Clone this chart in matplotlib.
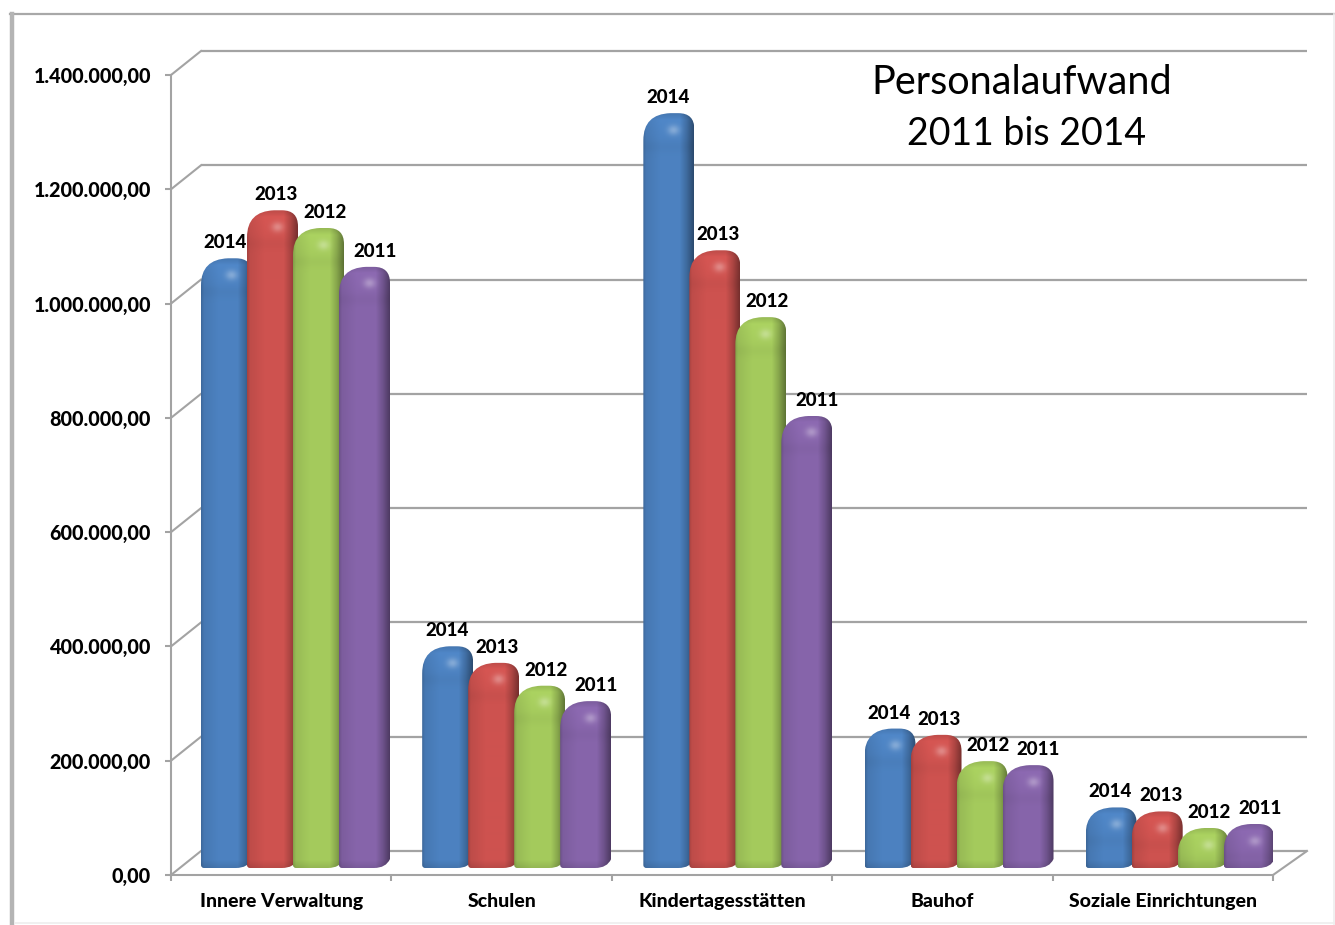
import numpy as np
import matplotlib
matplotlib.use("Agg")
import matplotlib.pyplot as plt
from matplotlib.lines import Line2D
from matplotlib.path import Path
from matplotlib.transforms import Affine2D, IdentityTransform

# data
categories = ["Innere Verwaltung", "Schulen", "Kindertagesstätten", "Bauhof", "Soziale Einrichtungen"]
years = ["2014", "2013", "2012", "2011"]
values_2014 = [1067000, 388000, 1321000, 244000, 106000]
values_2013 = [1151000, 359000, 1081000, 233000, 99000]
values_2012 = [1120000, 319000, 964000, 187000, 70000]
values_2011 = [1052000, 292000, 791000, 180000, 77000]
y_ticks = [0, 200000, 400000, 600000, 800000, 1000000, 1200000, 1400000]
y_labels = ["0,00", "200.000,00", "400.000,00", "600.000,00", "800.000,00",
            "1.000.000,00", "1.200.000,00", "1.400.000,00"]

series = [values_2014, values_2013, values_2012, values_2011]
colors = [(74, 126, 187), (200, 80, 77), (160, 197, 90), (131, 98, 166)]
grid_col = "#a3a3a3"
W, H = 1335, 925
FONT = "Lato"
BOLD = 900

fig = plt.figure(figsize=(W / 100, H / 100), dpi=100)
ax = fig.add_axes([171 / W, (H - 875) / H, 1102 / W, 800 / H])
ax.set_xlim(0, 5)
ax.set_ylim(0, 1400000)
ax.autoscale(False)
ax.patch.set_alpha(0)

for s in ["top", "right"]:
    ax.spines[s].set_visible(False)
for s in ["left", "bottom"]:
    ax.spines[s].set_color(grid_col)
    ax.spines[s].set_linewidth(1.5)

ax.set_yticks(y_ticks)
ax.set_yticklabels(y_labels, fontname=FONT, fontweight=BOLD, fontsize=14.2)
ax.tick_params(axis="y", length=4.5, width=1.5, color=grid_col, pad=10, labelcolor="black")
ax.set_xticks(range(6))
ax.set_xticklabels([])
ax.tick_params(axis="x", length=4, width=1.5, color=grid_col)
ax.set_xticks(np.arange(5) + 0.5, minor=True)
ax.set_xticklabels(categories, minor=True, fontname=FONT, fontweight=BOLD, fontsize=14)
ax.tick_params(axis="x", which="minor", length=0, pad=13)

# back wall and floor
back = ax.transData + Affine2D().translate(30, 24)
ax.hlines(y_ticks, 0, 5.018, colors=grid_col, linewidth=1.6, transform=back, clip_on=False, zorder=1)
for v in y_ticks:
    px, py = ax.transData.transform((0, v))
    ax.add_line(Line2D([px, px + 30], [py, py + 24], color=grid_col, lw=1.5,
                       transform=IdentityTransform(), clip_on=False, zorder=1))
px, py = ax.transData.transform((5, 0))
ax.add_line(Line2D([px, px + 34], [py, py + 24], color=grid_col, lw=1.5,
                   transform=IdentityTransform(), clip_on=False, zorder=1))


def shaded(w, h, col):
    # glossy column, lighter in the middle, dark side on the right
    u = (np.arange(w) + 0.5) / w
    d = np.arange(h) + 0.5
    uu, dd = np.meshgrid(u, d)
    prof = np.interp(uu, [0, 0.06, 0.35, 0.72, 0.86, 1], [0.82, 0.95, 1.03, 1.03, 0.84, 0.58])
    cap = np.clip(1 - dd / 30.0, 0, 1)
    spot = np.exp(-(((uu - 0.6) * w / 6.0) ** 2 + ((dd - 17) / 5.0) ** 2))
    band = np.exp(-((dd - 34) / 6.0) ** 2) * 0.025
    rim = np.clip(1 - dd / 7.0, 0, 1) * 0.14
    edge = np.clip((dd - (h - 8)) / 8.0, 0, 1) * 0.1
    light = prof * (1 + 0.05 * cap - band - rim - edge)
    img = np.array(col, float)[None, None, :] * light[..., None] / 255.0
    img = img + spot[..., None] * 0.3 * (1 - img)
    return np.clip(img, 0, 1)


def column_path(l, r, b, t):
    codes = [Path.MOVETO, Path.LINETO, Path.CURVE3, Path.CURVE3, Path.LINETO, Path.CURVE3, Path.CURVE3,
             Path.LINETO, Path.CURVE3, Path.CURVE3, Path.LINETO, Path.CURVE3, Path.CURVE3, Path.CLOSEPOLY]
    verts = [(l + 3, b), (r - 16, b), (r - 4, b), (r, b + 9), (r, t - 16), (r, t), (r - 16, t),
             (l + 27, t), (l, t - 1), (l, t - 27), (l, b + 3), (l, b), (l + 3, b), (l + 3, b)]
    return Path(verts, codes)


pitch = 46.0 / 220.4
bar_w = 51.0 / 220.4
start = 30.0 / 220.4
base_lift = 7
label_dx = [1.5, 6, 8.5, 13]

for g in range(len(categories)):
    for k, vals in enumerate(series):
        x0 = g * 1.0035 + start + k * pitch
        l, b = ax.transData.transform((x0, 0))
        r, t = ax.transData.transform((x0 + bar_w, vals[g]))
        b += base_lift
        t += base_lift
        w, h = int(round(r - l)), int(round(t - b))
        im = ax.imshow(shaded(w, h, colors[k]), extent=(l, r, b, t), aspect="auto",
                       interpolation="bilinear", zorder=3 + g + k * 0.1, origin="upper")
        im.set_transform(IdentityTransform())
        im.set_clip_path(column_path(l, r, b, t), IdentityTransform())
        ax.annotate(years[k], (x0 + 23.0 / 220.4, vals[g]), xytext=(label_dx[k], base_lift + 15.5),
                    textcoords="offset pixels", ha="center", va="center", annotation_clip=False,
                    fontname=FONT, fontweight=BOLD, fontsize=13.5, color="black", zorder=20)

fig.text(1022 / W, (H - 83) / H, "Personalaufwand", ha="center", va="center", fontname=FONT, fontsize=28.5)
fig.text(1027 / W, (H - 134) / H, "2011 bis 2014", ha="center", va="center", fontname=FONT, fontsize=27)

# frame of the pasted chart
frame = [([10, W], [H - 14, H - 14], "#a8a8a8", 1.6),
         ([12, 12], [0, H - 14], "#b4b4b4", 3.2),
         ([15, W], [2, 2], "#eeeeee", 1.2),
         ([W - 1, W - 1], [0, H - 14], "#eeeeee", 1.2)]
for xs, ys, c, lw in frame:
    fig.add_artist(Line2D(xs, ys, color=c, lw=lw, transform=IdentityTransform()))

fig.savefig("out.png", dpi=100)
